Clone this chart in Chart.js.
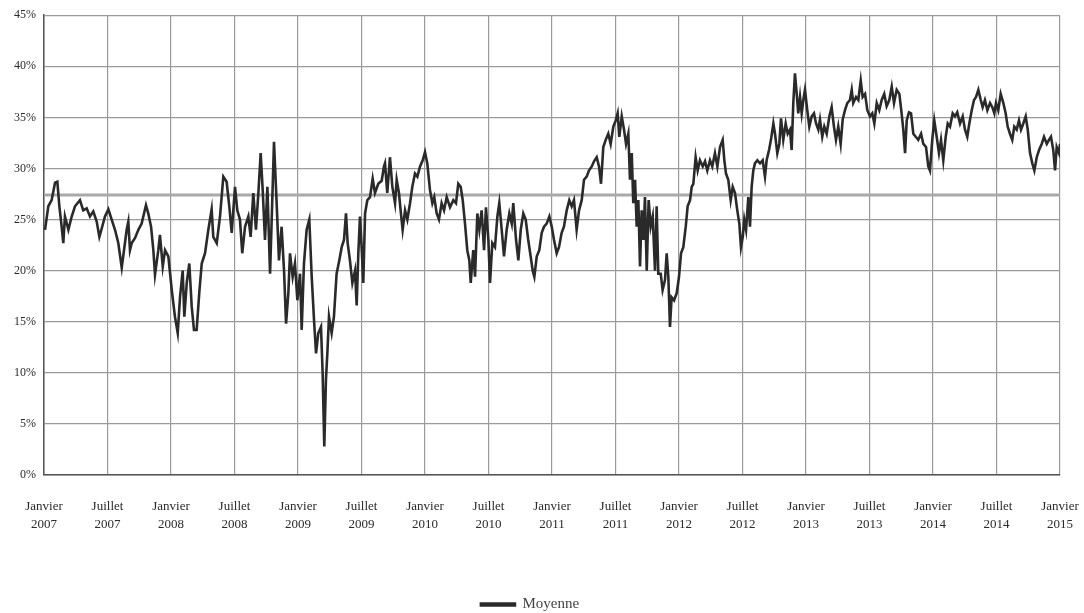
<!DOCTYPE html>
<html lang="fr">
<head>
<meta charset="utf-8">
<title>Moyenne</title>
<script src="https://cdn.jsdelivr.net/npm/chart.js@4.4.0/dist/chart.umd.min.js"></script>
<style>
  html, body { margin: 0; padding: 0; background: #fff; }
  #wrap { width: 1084px; height: 613px; }
</style>
</head>
<body>
<div id="wrap"><canvas id="chart"></canvas></div>
<script>
// Dates as decimal years, values in %
const dates = [
  2007.008, 2007.034, 2007.060, 2007.087, 2007.105, 2007.121, 2007.139, 2007.152, 2007.165, 2007.192,
  2007.218, 2007.244, 2007.283, 2007.309, 2007.336, 2007.362, 2007.388, 2007.415, 2007.436, 2007.454,
  2007.480, 2007.507, 2007.533, 2007.559, 2007.585, 2007.612, 2007.630, 2007.651, 2007.664, 2007.677,
  2007.691, 2007.717, 2007.743, 2007.769, 2007.803, 2007.821, 2007.843, 2007.861, 2007.874, 2007.900,
  2007.913, 2007.935, 2007.953, 2007.979, 2008.006, 2008.031, 2008.053, 2008.071, 2008.092, 2008.105,
  2008.124, 2008.144, 2008.163, 2008.181, 2008.202, 2008.223, 2008.242, 2008.268, 2008.294, 2008.320,
  2008.333, 2008.360, 2008.386, 2008.412, 2008.438, 2008.459, 2008.478, 2008.504, 2008.522, 2008.543,
  2008.561, 2008.583, 2008.609, 2008.627, 2008.648, 2008.669, 2008.688, 2008.706, 2008.722, 2008.740,
  2008.759, 2008.780, 2008.793, 2008.811, 2008.832, 2008.850, 2008.871, 2008.890, 2008.906, 2008.924,
  2008.937, 2008.958, 2008.976, 2008.995, 2009.016, 2009.029, 2009.047, 2009.068, 2009.089, 2009.108,
  2009.126, 2009.142, 2009.160, 2009.181, 2009.194, 2009.207, 2009.220, 2009.231, 2009.244, 2009.265,
  2009.283, 2009.304, 2009.325, 2009.344, 2009.362, 2009.378, 2009.391, 2009.409, 2009.428, 2009.449,
  2009.462, 2009.475, 2009.488, 2009.501, 2009.514, 2009.528, 2009.546, 2009.567, 2009.588, 2009.606,
  2009.632, 2009.659, 2009.677, 2009.685, 2009.703, 2009.724, 2009.743, 2009.764, 2009.777, 2009.795,
  2009.808, 2009.824, 2009.843, 2009.861, 2009.882, 2009.900, 2009.921, 2009.940, 2009.961, 2009.982,
  2010.000, 2010.018, 2010.039, 2010.058, 2010.073, 2010.092, 2010.110, 2010.131, 2010.150, 2010.171,
  2010.197, 2010.223, 2010.244, 2010.262, 2010.281, 2010.297, 2010.315, 2010.333, 2010.349, 2010.360,
  2010.380, 2010.394, 2010.412, 2010.428, 2010.446, 2010.465, 2010.480, 2010.499, 2010.512, 2010.530,
  2010.551, 2010.570, 2010.585, 2010.604, 2010.622, 2010.643, 2010.664, 2010.683, 2010.695, 2010.717,
  2010.735, 2010.754, 2010.774, 2010.793, 2010.813, 2010.832, 2010.848, 2010.861, 2010.880, 2010.900,
  2010.919, 2010.937, 2010.958, 2010.979, 2010.998, 2011.016, 2011.037, 2011.055, 2011.076, 2011.094,
  2011.116, 2011.136, 2011.155, 2011.173, 2011.194, 2011.213, 2011.234, 2011.252, 2011.273, 2011.291,
  2011.313, 2011.331, 2011.352, 2011.370, 2011.386, 2011.404, 2011.423, 2011.443, 2011.462, 2011.483,
  2011.502, 2011.517, 2011.530, 2011.549, 2011.567, 2011.583, 2011.601, 2011.614, 2011.628, 2011.640,
  2011.654, 2011.667, 2011.680, 2011.693, 2011.706, 2011.719, 2011.732, 2011.746, 2011.761, 2011.777,
  2011.793, 2011.811, 2011.824, 2011.837, 2011.856, 2011.871, 2011.890, 2011.903, 2011.916, 2011.929,
  2011.942, 2011.961, 2011.982, 2012.000, 2012.016, 2012.034, 2012.053, 2012.068, 2012.087, 2012.100,
  2012.113, 2012.131, 2012.147, 2012.165, 2012.187, 2012.205, 2012.223, 2012.244, 2012.262, 2012.283,
  2012.302, 2012.323, 2012.344, 2012.357, 2012.370, 2012.388, 2012.407, 2012.423, 2012.441, 2012.459,
  2012.475, 2012.488, 2012.502, 2012.514, 2012.528, 2012.546, 2012.559, 2012.572, 2012.585, 2012.598,
  2012.617, 2012.638, 2012.659, 2012.677, 2012.690, 2012.709, 2012.724, 2012.743, 2012.756, 2012.774,
  2012.790, 2012.803, 2012.821, 2012.840, 2012.856, 2012.874, 2012.887, 2012.900, 2012.913, 2012.927,
  2012.939, 2012.953, 2012.966, 2012.979, 2012.992, 2013.010, 2013.026, 2013.045, 2013.063, 2013.079,
  2013.097, 2013.110, 2013.128, 2013.144, 2013.163, 2013.184, 2013.202, 2013.220, 2013.236, 2013.254,
  2013.273, 2013.289, 2013.307, 2013.325, 2013.346, 2013.360, 2013.372, 2013.394, 2013.412, 2013.431,
  2013.446, 2013.465, 2013.483, 2013.504, 2013.522, 2013.538, 2013.557, 2013.577, 2013.596, 2013.616,
  2013.635, 2013.656, 2013.675, 2013.693, 2013.714, 2013.735, 2013.753, 2013.766, 2013.780, 2013.793,
  2013.811, 2013.827, 2013.845, 2013.864, 2013.884, 2013.906, 2013.924, 2013.945, 2013.963, 2013.976,
  2013.994, 2014.010, 2014.029, 2014.047, 2014.063, 2014.081, 2014.100, 2014.116, 2014.134, 2014.155,
  2014.173, 2014.191, 2014.213, 2014.234, 2014.252, 2014.270, 2014.286, 2014.305, 2014.323, 2014.339,
  2014.357, 2014.376, 2014.391, 2014.409, 2014.428, 2014.449, 2014.467, 2014.483, 2014.496, 2014.514,
  2014.533, 2014.554, 2014.572, 2014.588, 2014.606, 2014.624, 2014.640, 2014.659, 2014.677, 2014.693,
  2014.711, 2014.730, 2014.746, 2014.764, 2014.782, 2014.798, 2014.817, 2014.835, 2014.856, 2014.874,
  2014.896, 2014.913, 2014.929, 2014.947, 2014.961, 2014.974, 2014.992, 2015.000
];

const values = [
  24.0, 26.3, 26.9, 28.6, 28.7, 26.3, 24.3, 22.7, 25.3, 24.0,
  25.3, 26.3, 26.9, 25.9, 26.1, 25.3, 25.8, 24.8, 23.3, 24.1,
  25.3, 26.0, 25.0, 24.0, 22.7, 20.3, 22.0, 24.0, 24.8, 22.0,
  22.7, 23.2, 24.0, 24.6, 26.4, 25.6, 24.3, 22.0, 19.6, 22.0,
  23.5, 20.4, 22.0, 21.4, 18.1, 15.5, 13.9, 17.4, 20.0, 15.5,
  18.8, 20.7, 16.5, 14.2, 14.2, 17.9, 20.7, 21.7, 24.0, 26.0,
  23.3, 22.7, 25.3, 29.2, 28.7, 26.3, 23.7, 28.2, 25.9, 25.0,
  21.7, 24.3, 25.3, 23.3, 27.6, 24.0, 27.6, 31.5, 27.9, 23.0,
  28.2, 19.7, 25.0, 32.6, 26.6, 21.0, 24.3, 20.0, 14.8, 17.8,
  21.7, 19.4, 20.7, 17.1, 19.7, 14.2, 20.7, 24.0, 25.0, 19.4,
  15.2, 11.9, 13.9, 14.5, 10.0, 2.8, 9.3, 11.9, 15.5, 13.9,
  15.5, 19.7, 21.0, 22.3, 23.0, 25.6, 22.7, 21.0, 18.8, 20.0,
  16.6, 21.7, 25.3, 22.3, 18.8, 25.6, 26.9, 27.2, 29.0, 27.6,
  28.5, 28.8, 30.2, 30.5, 27.6, 31.1, 28.2, 26.6, 28.9, 27.6,
  25.9, 24.0, 25.9, 25.0, 26.6, 28.2, 29.5, 29.2, 30.2, 30.8,
  31.6, 30.5, 27.9, 26.6, 27.2, 25.6, 25.0, 26.6, 25.9, 27.2,
  26.2, 26.9, 26.6, 28.5, 28.2, 26.9, 24.6, 22.0, 21.0, 18.8,
  22.0, 19.4, 25.6, 24.0, 25.9, 22.0, 26.2, 23.0, 18.8, 22.7,
  22.3, 25.3, 26.6, 24.0, 21.4, 24.0, 25.6, 24.6, 26.6, 23.0,
  21.0, 24.0, 25.6, 25.0, 23.0, 21.4, 20.0, 19.4, 21.4, 22.0,
  23.7, 24.3, 24.6, 25.3, 24.3, 23.0, 21.7, 22.3, 23.7, 24.3,
  25.9, 26.9, 26.3, 26.9, 24.0, 25.9, 26.9, 28.9, 29.2, 29.8,
  30.2, 30.7, 31.1, 30.2, 28.5, 32.1, 32.8, 33.4, 32.4, 34.1,
  34.7, 35.4, 33.1, 35.1, 33.8, 32.4, 33.4, 28.9, 31.5, 26.6,
  28.9, 24.3, 26.9, 20.4, 25.9, 23.0, 27.2, 20.0, 26.9, 24.3,
  25.3, 20.0, 26.3, 19.7, 19.7, 18.1, 19.1, 21.7, 19.4, 14.5,
  17.4, 17.1, 17.8, 19.4, 21.7, 22.3, 24.3, 26.3, 26.9, 28.2,
  28.5, 31.1, 29.8, 30.8, 30.2, 30.7, 29.8, 30.8, 30.2, 31.5,
  30.2, 32.1, 32.8, 30.8, 29.5, 28.9, 26.9, 28.2, 27.6, 25.9,
  24.6, 22.3, 23.3, 25.0, 24.0, 27.2, 24.3, 28.2, 29.8, 30.5,
  30.8, 30.5, 30.8, 29.2, 30.8, 31.8, 32.8, 34.4, 33.4, 31.5,
  32.4, 34.9, 32.8, 34.4, 33.4, 33.8, 31.8, 36.4, 39.3, 37.3,
  35.4, 37.0, 35.4, 36.7, 37.7, 35.7, 34.1, 35.1, 35.4, 34.4,
  33.8, 34.8, 33.1, 34.1, 33.4, 35.1, 36.0, 34.1, 32.8, 34.1,
  32.4, 34.8, 35.7, 36.4, 36.7, 37.7, 36.4, 37.0, 36.7, 38.6,
  37.0, 37.3, 35.7, 35.1, 35.4, 34.4, 36.4, 35.7, 36.7, 37.3,
  36.1, 36.7, 38.0, 36.4, 37.7, 37.3, 35.4, 33.8, 31.5, 34.7,
  35.5, 35.4, 33.4, 33.1, 32.8, 33.4, 32.4, 32.1, 30.2, 29.8,
  32.8, 34.7, 33.1, 31.5, 32.8, 30.8, 33.1, 34.4, 34.1, 35.4,
  35.1, 35.5, 34.4, 35.1, 33.8, 33.1, 34.4, 35.7, 36.7, 37.0,
  37.7, 36.7, 36.0, 36.7, 35.7, 36.4, 36.0, 35.4, 36.4, 35.7,
  37.3, 36.4, 35.4, 34.1, 33.4, 32.8, 34.1, 33.8, 34.7, 33.8,
  34.4, 35.1, 33.8, 31.5, 30.5, 29.8, 31.1, 31.8, 32.4, 33.1,
  32.4, 32.8, 33.1, 31.8, 29.8, 32.1, 31.5, 32.4
];

// Horizontal reference line (long-run average)
const averageValue = 27.4;

const xTickLabels = [
  ['Janvier', '2007'], ['Juillet', '2007'], ['Janvier', '2008'], ['Juillet', '2008'],
  ['Janvier', '2009'], ['Juillet', '2009'], ['Janvier', '2010'], ['Juillet', '2010'],
  ['Janvier', '2011'], ['Juillet', '2011'], ['Janvier', '2012'], ['Juillet', '2012'],
  ['Janvier', '2013'], ['Juillet', '2013'], ['Janvier', '2014'], ['Juillet', '2014'],
  ['Janvier', '2015']
];

const FONT = "'Liberation Serif', 'DejaVu Serif', serif";

function buildSeries() {
  return dates.map((d, i) => ({ x: d, y: values[i] }));
}

const ctx = document.getElementById('chart').getContext('2d');
new Chart(ctx, {
  type: 'line',
  data: {
    datasets: [
      {
        label: 'Moyenne',
        data: buildSeries(),
        borderColor: '#2a2a2a',
        backgroundColor: '#4a4a4a',
        borderWidth: 2.6,
        pointRadius: 0,
        tension: 0,
        order: 1
      },
      {
        label: 'ref',
        data: [{ x: 2007, y: averageValue }, { x: 2015, y: averageValue }],
        borderColor: '#a9a9a9',
        borderWidth: 3,
        pointRadius: 0,
        order: 2
      }
    ]
  },
  options: {
    responsive: true,
    maintainAspectRatio: false,
    animation: false,
    layout: { padding: { top: 15, right: 24, left: 0, bottom: 0 } },
    plugins: {
      tooltip: { enabled: false },
      legend: {
        position: 'bottom',
        maxHeight: 19,
        labels: {
          filter: (item) => item.datasetIndex === 0,
          boxWidth: 34,
          boxHeight: 2,
          padding: 3,
          color: '#444',
          font: { family: FONT, size: 15 }
        }
      }
    },
    scales: {
      x: {
        type: 'linear',
        min: 2007,
        max: 2015,
        afterBuildTicks: (scale) => {
          scale.ticks = xTickLabels.map((_, i) => ({ value: 2007 + i * 0.5 }));
        },
        afterFit: (scale) => {
          // fixed height leaves room under the labels; ignore label overflow at the ends
          scale.height = 119;
          scale.paddingLeft = 0;
          scale.paddingRight = 24;
        },
        grid: { color: '#9a9a9a', lineWidth: 1.2, drawTicks: false },
        border: { color: '#555', width: 1.5 },
        ticks: {
          autoSkip: false,
          maxRotation: 0,
          padding: 22,
          color: '#2a2a2a',
          font: { family: FONT, size: 13, lineHeight: 1.4 },
          callback: (v, i) => xTickLabels[i]
        }
      },
      y: {
        min: 0,
        max: 45,
        afterFit: (scale) => { scale.width = 44; },
        grid: { color: '#9a9a9a', lineWidth: 1.2, drawTicks: false },
        border: { color: '#555', width: 1.5 },
        ticks: {
          stepSize: 5,
          padding: 8,
          color: '#2a2a2a',
          font: { family: FONT, size: 12 },
          callback: (v) => v + '%'
        }
      }
    }
  }
});
</script>
</body>
</html>
